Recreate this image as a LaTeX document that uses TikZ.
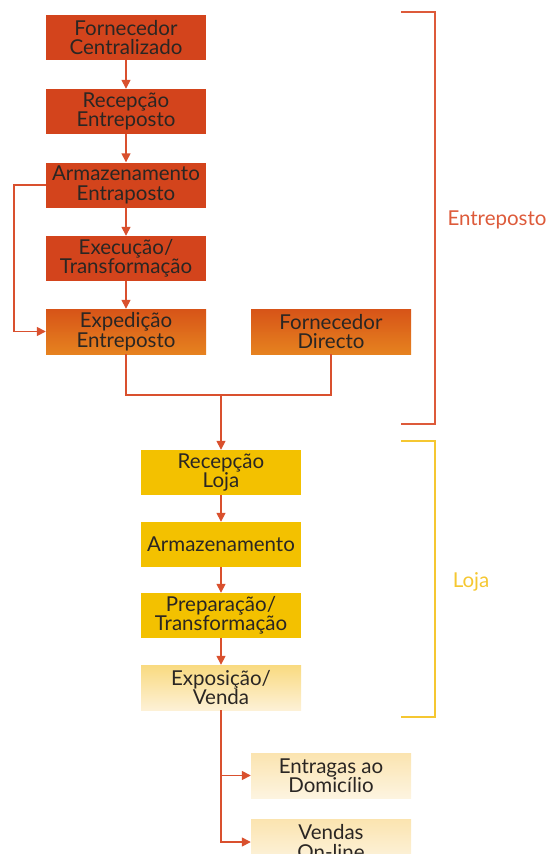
\documentclass[tikz,border=0pt]{standalone}
\usepackage{fontspec}
\setmainfont{Lato}
\usetikzlibrary{arrows.meta}
\definecolor{redbox}{HTML}{D3441C}
\definecolor{orangetop}{HTML}{D75418}
\definecolor{orangebot}{HTML}{E6821F}
\definecolor{yellowbox}{HTML}{F3C100}
\definecolor{paletop}{HTML}{F9DA80}
\definecolor{palebot}{HTML}{FDF1D6}
\definecolor{creamtop}{HTML}{FBE4B0}
\definecolor{creambot}{HTML}{FDF4E0}
\definecolor{linered}{HTML}{D9502E}
\definecolor{brackred}{HTML}{DD5A3A}
\definecolor{brackyel}{HTML}{F5C731}
\definecolor{txt}{HTML}{2A2623}
\begin{document}
\begin{tikzpicture}[x=1pt,y=-1pt,
  box/.style={minimum width=160pt,minimum height=45pt,inner sep=0pt,align=center,
    text=txt,font=\fontsize{20.5}{19.5}\selectfont},
  redb/.style={box,fill=redbox},
  orangeb/.style={box,top color=orangetop,bottom color=orangebot},
  yellowb/.style={box,fill=yellowbox},
  paleb/.style={box,top color=paletop,bottom color=palebot},
  creamb/.style={box,top color=creamtop,bottom color=creambot},
  conn/.style={draw=linered,line width=1.5pt},
  arr/.style={conn,-{Triangle[width=9pt,length=9pt]}},
  brack/.style={line width=1.5pt},
  lab/.style={font=\fontsize{20.5}{20}\selectfont}]
\useasboundingbox (0,0) rectangle (551,854);
\clip (0,0) rectangle (551,854);
% Entreposto boxes
\node[redb] (fc) at (126,37.5) {Fornecedor\\Centralizado};
\node[redb] (re) at (126,111.5) {Recepção\\Entreposto};
\node[redb] (ae) at (126,185) {Armazenamento\\Entraposto};
\node[redb] (et) at (126,258.5) {Execução/\\Transformação};
\node[orangeb] (ee) at (126,331.5) {Expedição\\Entreposto};
\node[orangeb] (fd) at (331,331.5) {Fornecedor\\Directo};
% Loja boxes
\node[yellowb] (rl) at (221,472.5) {Recepção\\Loja};
\node[yellowb] (ar) at (221,544.5) {Armazenamento};
\node[yellowb] (pt) at (221,615.5) {Preparação/\\Transformação};
\node[paleb] (ev) at (221,687.5) {Exposição/\\Venda};
\node[creamb] (ed) at (331,775.5) {Entragas ao\\Domicílio};
\node[creamb] (vo) at (331,842) {Vendas\\On-line};
% connectors
\draw[arr] (fc) -- (re);
\draw[arr] (re) -- (ae);
\draw[arr] (ae) -- (et);
\draw[arr] (et) -- (ee);
\draw[arr] (ae.west) -- ++(-32,0) |- (ee.west);
\coordinate (m) at (221,395);
\draw[conn] (ee.south) |- (m) -| (fd.south);
\draw[arr] (m) -- (rl.north);
\draw[arr] (rl) -- (ar);
\draw[arr] (ar) -- (pt);
\draw[arr] (pt) -- (ev);
\draw[arr] (ev.south) |- (ed.west);
\draw[arr] (ev.south) |- (vo.west);
% brackets
\draw[brack,draw=brackred] (401,12) -- (435,12) -- (435,424) -- (401,424);
\node[lab,text=brackred] (lent) at (497,220) {Entreposto};
\draw[brack,draw=brackyel] (401,441) -- (435,441) -- (435,717) -- (401,717);
\node[lab,text=brackyel] (lloja) at (471,582) {Loja};
\end{tikzpicture}
\end{document}
